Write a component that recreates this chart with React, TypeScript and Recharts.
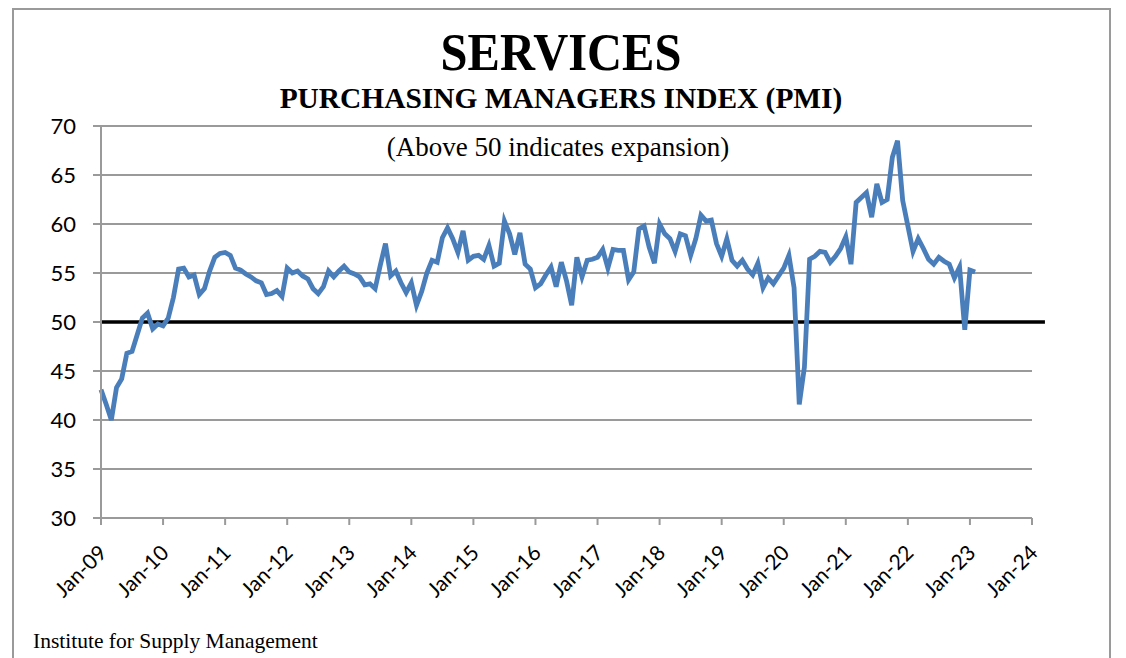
import React from 'react';
import { LineChart, Line, XAxis, YAxis, CartesianGrid, ReferenceLine } from 'recharts';

// Services PMI, monthly
const pmi2009 = [43.1, 41.6, 40.0, 43.3, 44.2, 46.8, 47.0, 48.7, 50.4, 50.9, 49.3, 49.8];
const pmi2010 = [49.6, 50.4, 52.5, 55.4, 55.5, 54.6, 54.8, 52.8, 53.4, 55.2, 56.6, 57.0];
const pmi2011 = [57.1, 56.8, 55.5, 55.3, 54.9, 54.6, 54.2, 54.0, 52.8, 52.9, 53.2, 52.6];
const pmi2012 = [55.5, 55.0, 55.2, 54.7, 54.4, 53.4, 52.9, 53.6, 55.2, 54.6, 55.2, 55.7];
const pmi2013 = [55.1, 54.9, 54.6, 53.8, 53.9, 53.4, 55.8, 58.0, 54.7, 55.2, 54.0, 53.0];
const pmi2014 = [54.0, 51.7, 53.1, 55.0, 56.3, 56.1, 58.6, 59.6, 58.5, 57.1, 59.3, 56.3];
const pmi2015 = [56.7, 56.8, 56.4, 57.8, 55.7, 56.0, 60.3, 59.0, 56.9, 59.1, 55.9, 55.4];
const pmi2016 = [53.5, 53.9, 54.8, 55.6, 53.6, 56.1, 54.2, 51.7, 56.6, 54.6, 56.3, 56.4];
const pmi2017 = [56.6, 57.4, 55.5, 57.4, 57.3, 57.3, 54.3, 55.1, 59.5, 59.8, 57.6, 56.0];
const pmi2018 = [60.0, 59.0, 58.5, 57.2, 59.0, 58.8, 56.8, 58.5, 60.9, 60.3, 60.4, 58.0];
const pmi2019 = [56.7, 58.5, 56.3, 55.7, 56.3, 55.4, 54.8, 56.0, 53.5, 54.5, 53.9, 54.7];
const pmi2020 = [55.5, 56.8, 53.5, 41.6, 45.4, 56.4, 56.7, 57.2, 57.1, 56.1, 56.7, 57.5];
const pmi2021 = [58.7, 55.9, 62.2, 62.7, 63.2, 60.7, 64.1, 62.2, 62.5, 66.8, 68.5, 62.4];
const pmi2022 = [59.8, 57.2, 58.5, 57.5, 56.4, 55.9, 56.6, 56.2, 55.9, 54.5, 55.6, 49.2];
const pmi2023 = [55.3, 55.1];

const xTickLabels = ['Jan-09', 'Jan-10', 'Jan-11', 'Jan-12', 'Jan-13', 'Jan-14', 'Jan-15', 'Jan-16',
  'Jan-17', 'Jan-18', 'Jan-19', 'Jan-20', 'Jan-21', 'Jan-22', 'Jan-23', 'Jan-24'];
const yTicks = [30, 35, 40, 45, 50, 55, 60, 65, 70];

const allValues = [
  ...pmi2009, ...pmi2010, ...pmi2011, ...pmi2012, ...pmi2013, ...pmi2014, ...pmi2015, ...pmi2016,
  ...pmi2017, ...pmi2018, ...pmi2019, ...pmi2020, ...pmi2021, ...pmi2022, ...pmi2023,
];
const data = allValues.map((v, i) => ({ month: i, pmi: v }));
const xTicks = xTickLabels.map((_, i) => i * 12);

const axisFont = "Lato, 'Liberation Sans', sans-serif";
const serif = "'Liberation Serif', 'Times New Roman', serif";

const XTick = (props: any) => {
  const { x, y, payload } = props;
  const label = xTickLabels[Math.round(payload.value / 12)];
  const px = x + 1;
  const py = y + 21;
  return (
    <text
      x={px}
      y={py}
      transform={`rotate(-45, ${px}, ${py})`}
      textAnchor="end"
      dominantBaseline="central"
      fontSize={21}
      fontFamily={axisFont}
      fill="#000"
    >
      {label}
    </text>
  );
};

export default function App() {
  return (
    <div style={{ position: 'absolute', left: 0, top: 0, width: 1126, height: 658, background: '#fff', overflow: 'hidden' }}>
      <div style={{ position: 'absolute', left: 12, top: 8, width: 1099, height: 700, border: '2px solid #9a9a9a', boxSizing: 'border-box' }} />
      <div style={{ position: 'absolute', left: 0, width: 1122, top: 22, textAlign: 'center', fontFamily: serif, fontWeight: 'bold', fontSize: 53, lineHeight: '60px', transform: 'scaleX(0.915)' }}>
        SERVICES
      </div>
      <div style={{ position: 'absolute', left: 0, width: 1122, top: 81, textAlign: 'center', fontFamily: serif, fontWeight: 'bold', fontSize: 30, lineHeight: '34px', transform: 'scaleX(0.98)' }}>
        PURCHASING MANAGERS INDEX (PMI)
      </div>
      <div style={{ position: 'absolute', left: 0, width: 1116, top: 131, textAlign: 'center', fontFamily: serif, fontSize: 27, lineHeight: '32px' }}>
        (Above 50 indicates expansion)
      </div>
      <div style={{ position: 'absolute', left: 33, top: 628, fontFamily: serif, fontSize: 21.5, lineHeight: '26px' }}>
        Institute for Supply Management
      </div>
      <div style={{ position: 'absolute', left: 0, top: 0 }}>
        <LineChart width={1126} height={658} data={data} margin={{ top: 126, right: 94, bottom: 80, left: 41 }}>
          <CartesianGrid vertical={false} stroke="#9a9a9a" strokeWidth={2} />
          <XAxis
            type="number"
            dataKey="month"
            domain={[0, 180]}
            ticks={xTicks}
            interval={0}
            height={60}
            stroke="#9a9a9a"
            strokeWidth={2}
            tickSize={7}
            tick={<XTick />}
          />
          <YAxis
            domain={[30, 70]}
            ticks={yTicks}
            interval={0}
            width={60}
            stroke="#9a9a9a"
            strokeWidth={2}
            tickSize={8}
            tick={{ fontSize: 22, fill: '#000', fontFamily: axisFont, dx: -15 }}
          />
          <ReferenceLine
            ifOverflow="visible"
            segment={[{ x: 0, y: 50 }, { x: 182.5, y: 50 }]}
            stroke="#000"
            strokeWidth={3.5}
          />
          <Line
            type="linear"
            dataKey="pmi"
            stroke="#4a7ebb"
            strokeWidth={4.8}
            dot={false}
            isAnimationActive={false}
          />
        </LineChart>
      </div>
    </div>
  );
}
